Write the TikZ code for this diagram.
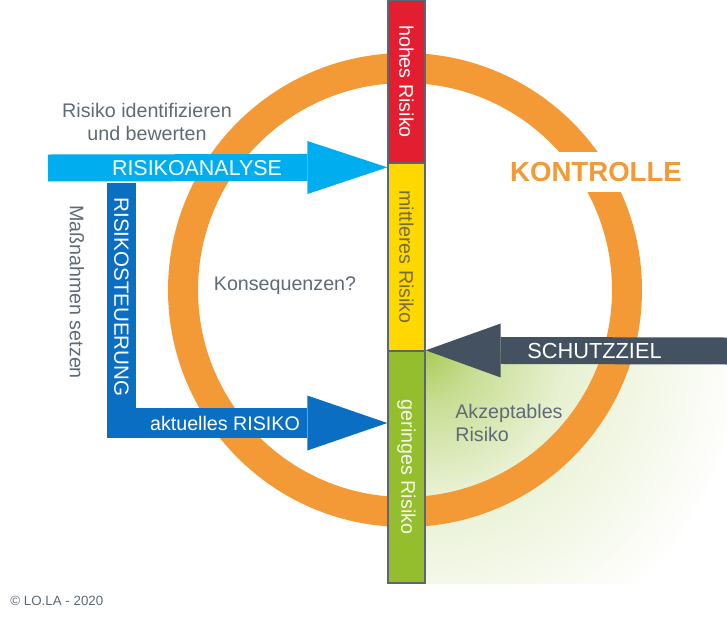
\documentclass[tikz,border=0pt]{standalone}
\usepackage{fontspec}
\setmainfont{Liberation Sans}
\usetikzlibrary{arrows.meta}
\usetikzlibrary{positioning}

\definecolor{ringorange}{HTML}{F39A37}
\definecolor{risikorot}{HTML}{E31E30}
\definecolor{risikogelb}{HTML}{FFD800}
\definecolor{risikogruen}{HTML}{95BE2F}
\definecolor{analyseblau}{HTML}{00AEEF}
\definecolor{steuerblau}{HTML}{0A6FC2}
\definecolor{zielgrau}{HTML}{435160}
\definecolor{textgrau}{HTML}{5E6A74}
\definecolor{randgrau}{HTML}{5B6670}

\pgfdeclareradialshading{akzeptfade}{\pgfpoint{0bp}{0bp}}{%
  color(0bp)=(risikogruen!80);
  color(4bp)=(risikogruen!52);
  color(11bp)=(risikogruen!22);
  color(25bp)=(white);
  color(50bp)=(white)}

\begin{document}
\begin{tikzpicture}[x=0.02cm, y=-0.02cm]
        \tikzset{
          hinweis/.style={
            text=textgrau,
            inner sep=0pt,
            font=\fontsize{11.2}{13.6}\selectfont,
          },
          segment/.style={
            draw=randgrau,
            line width=0.8pt,
            inner sep=0pt,
            minimum width=0.74cm,
          },
          segtext/.style={
            rotate=-90,
            inner sep=0pt,
            font=\fontsize{11.2}{13.6}\selectfont,
          },
          bandtext/.style={
            text=white,
            inner sep=0pt,
            font=\fontsize{11.2}{13.6}\selectfont,
          },
          kreisring/.style={draw=ringorange, line width=0.6cm},
          pfeil/.style={line cap=butt, line join=miter},
        }
        \useasboundingbox (0,0) rectangle (727,619);

        % akzeptabler Bereich
        \begin{scope}
          \clip (425,351) rectangle (727,583);
          \shade[shading=akzeptfade] (425,351) circle (320);
        \end{scope}

        % Kontroll-Kreis
        \draw[kreisring] (405,290) circle (222);

        % Risiko-Skala
        \node[segment, fill=risikorot, minimum height=3.26cm] (hoch) at (406.5,81.5) {};
        \node[segment, fill=risikogelb, minimum height=3.76cm] (mittel) at (406.5,257) {};
        \node[segment, fill=risikogruen, minimum height=4.64cm] (gering) at (406.5,467) {};
        \node[segtext, text=white] (hochtext) at (hoch) {hohes Risiko};
        \node[segtext, text={rgb,255:red,118;green,110;blue,58}] (mitteltext) at (mittel) {mittleres Risiko};
        \node[segtext, text=white!90!risikogruen] (geringtext) at (gering) {geringes Risiko};

        % Pfeile
        \coordinate (analysestart) at (48,168);
        \coordinate (steuerstart) at (121.5,183);
        \coordinate (zielstart) at (727,351);
        \draw[pfeil, analyseblau, line width=0.54cm,
          -{Triangle[length=1.6cm, width=1.06cm, line width=0pt]}]
          (analysestart) -- ([yshift=-0.1cm]mittel.north west);
        \draw[pfeil, steuerblau, line width=0.6cm,
          -{Triangle[length=1.6cm, width=1.1cm, line width=0pt]}]
          (steuerstart) |- ([yshift=0.88cm]gering.west);
        \draw[pfeil, zielgrau, line width=0.54cm,
          -{Triangle[length=1.5cm, width=1.08cm, line width=0pt]}]
          (zielstart) -- (gering.north east);

        % Beschriftungen
        \node[hinweis, align=center] (identifizieren) at (147,122) {Risiko identifizieren\\und bewerten};
        \node[bandtext, font=\fontsize{12.2}{14}\selectfont] (analysetext) at (197,168) {RISIKOANALYSE};
        \node[bandtext, rotate=-90, font=\fontsize{11.7}{13.6}\selectfont] (steuertext) at (121.5,297) {RISIKOSTEUERUNG};
        \node[hinweis, rotate=-90] (massnahmen) at (77,292) {Maßnahmen setzen};
        \node[bandtext] (aktuelltext) at (225,423) {aktuelles RISIKO};
        \node[hinweis] (konsequenzen) at (285,286) {Konsequenzen?};
        \node[fill=white, text=ringorange, inner xsep=2pt, minimum height=0.8cm,
          font=\bfseries\fontsize{15.7}{18}\selectfont] (kontrolle) at (596,172) {KONTROLLE};
        \node[bandtext, font=\fontsize{12.4}{14}\selectfont] (schutztext) at (594.5,351) {SCHUTZZIEL};
        \node[hinweis, align=left, anchor=west] (akzeptabel) at (455,423) {Akzeptables\\Risiko};
        \node[hinweis, anchor=west, font=\fontsize{7.6}{9}\selectfont] (copyright) at (10,601) {© LO.LA - 2020};
\end{tikzpicture}
\end{document}
